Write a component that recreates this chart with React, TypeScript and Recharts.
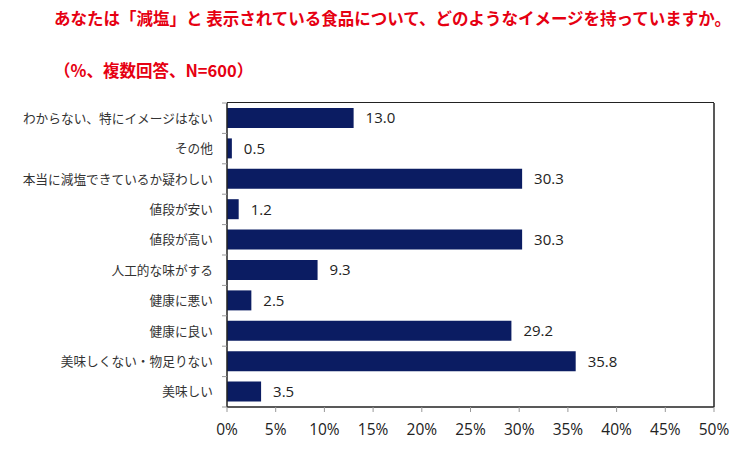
import { BarChart, Bar, XAxis, YAxis, LabelList, ReferenceLine } from 'recharts';

const categories = [
    'わからない、特にイメージはない',
    'その他',
    '本当に減塩できているか疑わしい',
    '値段が安い',
    '値段が高い',
    '人工的な味がする',
    '健康に悪い',
    '健康に良い',
    '美味しくない・物足りない',
    '美味しい',
];
const values = [13.0, 0.5, 30.3, 1.2, 30.3, 9.3, 2.5, 29.2, 35.8, 3.5];
const xTicks = [0, 5, 10, 15, 20, 25, 30, 35, 40, 45, 50];

const title = 'あなたは「減塩」と 表示されている食品について、どのようなイメージを持っていますか。';
const subtitle = '（%、複数回答、N=600）';

const data = categories.map((name, i) => ({ name, value: values[i] }));

const jp = '"Noto Sans CJK JP", "Noto Sans", sans-serif';
const num = '"Open Sans", sans-serif';
const LABEL_GAP = 14;

// category label plus the Excel-style tick mark between categories
function CategoryTick(props: any) {
    const { x, y, payload, index } = props;
    const half = payload && payload.offset ? payload.offset : 15.2;
    const axisX = x + LABEL_GAP;
    return (
        <g>
            <line x1={axisX - 5} x2={axisX} y1={y - half} y2={y - half} stroke="#999" />
            {index === categories.length - 1 && (
                <line x1={axisX - 5} x2={axisX} y1={y + half} y2={y + half} stroke="#999" />
            )}
            <text x={x} y={y} dy={4.5} textAnchor="end" fill="#333" fontSize={12.7} fontFamily={jp}>
                {payload.value}
            </text>
        </g>
    );
}

export default function App() {
    return (
        <div style={{ position: 'absolute', left: 0, top: 0, width: 750, height: 455, background: '#fff' }}>
            <div style={{ position: 'absolute', left: 54, top: 6, fontFamily: jp, fontWeight: 700, fontSize: 16.5, color: '#e60012', whiteSpace: 'nowrap' }}>
                {title}
            </div>
            <div style={{ position: 'absolute', left: 54, top: 58, fontFamily: jp, fontWeight: 700, fontSize: 16.5, color: '#e60012', whiteSpace: 'nowrap' }}>
                {subtitle}
            </div>
            <BarChart
                width={750}
                height={455}
                data={data}
                layout="vertical"
                margin={{ top: 103, right: 36, left: 0, bottom: 8 }}
                barSize={20}
            >
                <XAxis
                    type="number"
                    domain={[0, 50]}
                    ticks={xTicks}
                    interval={0}
                    tickFormatter={(v) => `${v}%`}
                    axisLine={{ stroke: '#222', strokeWidth: 1.5 }}
                    tickLine={{ stroke: '#999' }}
                    tickSize={5}
                    tickMargin={12}
                    height={40}
                    tick={{ fill: '#222', fontSize: 15.5, fontFamily: num }}
                />
                <YAxis
                    type="category"
                    dataKey="name"
                    width={227}
                    interval={0}
                    axisLine={{ stroke: '#222', strokeWidth: 1.5 }}
                    tickLine={false}
                    tickSize={0}
                    tickMargin={LABEL_GAP}
                    tick={<CategoryTick />}
                />
                <ReferenceLine x={50} stroke="#222" strokeWidth={1.5} />
                <Bar dataKey="value" fill="#0b1c62" isAnimationActive={false}>
                    <LabelList
                        dataKey="value"
                        position="right"
                        offset={12}
                        formatter={(v: number) => v.toFixed(1)}
                        style={{ fill: '#222', fontSize: 15, fontFamily: num }}
                    />
                </Bar>
            </BarChart>
            {/* top edge of the plot frame */}
            <div style={{ position: 'absolute', left: 227, top: 102, width: 487, height: 0, borderTop: '1.5px solid #222', pointerEvents: 'none' }} />
        </div>
    );
}
